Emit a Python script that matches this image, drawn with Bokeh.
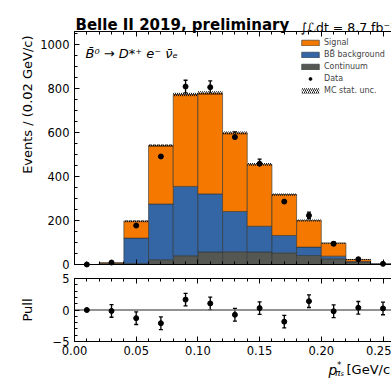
import math
import numpy as np
from bokeh.plotting import figure
from bokeh.layouts import column
from bokeh.models import (ColumnDataSource, Range1d, LinearAxis, SingleIntervalTicker,
                          PrintfTickFormatter, CustomJSTickFormatter, Label, Legend,
                          LegendItem, Whisker, TeeHead, CustomLabelingPolicy)
from bokeh.embed import file_html
from bokeh.resources import INLINE

# ---------------- data ----------------
bin_edges = [0.00, 0.02, 0.04, 0.06, 0.08, 0.10, 0.12, 0.14, 0.16, 0.18, 0.20, 0.22, 0.24, 0.26]
continuum = [0, 2, 5, 22, 40, 57, 58, 57, 53, 41, 26, 12, 1]
bb_background = [0, 2, 115, 253, 315, 264, 183, 117, 79, 38, 12, 2, 0.5]
signal = [0, 4, 77, 266, 418, 458, 357, 281, 186, 121, 59, 9, 0.5]
mc_stat_unc = [0, 1, 5, 7, 8, 8, 7, 6, 5, 4, 3, 2, 1]

data_x = [0.01, 0.03, 0.05, 0.07, 0.09, 0.11, 0.13, 0.15, 0.17, 0.19, 0.21, 0.23, 0.25]
data_y = [0, 9, 177, 491, 809, 806, 579, 458, 286, 223, 94, 24, 3]

pull_y = [0.0, -0.15, -1.3, -2.1, 1.65, 1.05, -0.75, 0.3, -1.85, 1.4, -0.2, 0.35, 0.25]
pull_err = [0, 1, 1, 1, 1, 1, 1, 1, 1, 1, 1, 1, 1]

y_top = 1059            # upper limit of the event axis
pull_lim = 5            # pull axis is -5 .. 5
x_tick_interval = 0.05

# ---------------- page geometry (pixels) ----------------
W = 391
H1, H2 = 271, 109               # heights of the two canvases
X0_PX = 74                      # page x of x = 0
PX_PER_X = 1234.0
Y0_PX1, PX_PER_Y1 = 264, 0.22   # page y of 0 events, px per event
Y0_PX2, PX_PER_Y2 = 309.5, 6.3  # page y of pull 0, px per unit


def fx(px):
    return (px - X0_PX) / PX_PER_X


def fy1(py):
    return (Y0_PX1 - py) / PX_PER_Y1


def fy2(py):
    return (Y0_PX2 - py) / PX_PER_Y2


FONT = "DejaVu Sans"
C_SIG = "#f57900"
C_BB = "#3465a4"
C_CONT = "#555753"
EDGE = "#2e3436"
x_bounds = (bin_edges[0], bin_edges[-1])


def no_labels():
    return CustomLabelingPolicy(code="for (const i of indices) { indices.unset(i) }\nreturn indices")


def style_axis(ax, labels=True, standoff=5):
    ax.axis_line_color = "black"
    ax.axis_line_width = 1
    ax.major_tick_in = 5
    ax.major_tick_out = 0
    ax.minor_tick_in = 3
    ax.minor_tick_out = 0
    ax.major_tick_line_color = "black"
    ax.minor_tick_line_color = "black"
    ax.major_label_text_font = FONT
    ax.major_label_text_color = "black"
    ax.major_label_text_font_size = "11.5px"
    ax.major_label_standoff = standoff
    if not labels:
        ax.major_label_policy = no_labels()


def add_label(fig, x, y, text, size, style="normal", align="left", baseline="alphabetic", angle=0.0):
    fig.add_layout(Label(x=x, y=y, text=text, text_font=FONT, text_font_size=size,
                         text_font_style=style, text_color="black", text_align=align,
                         text_baseline=baseline, angle=angle))


x_range = Range1d(fx(0), fx(W))

# ======================= top panel =======================
p1 = figure(width=W, height=H1, x_range=x_range, y_range=Range1d(fy1(H1), fy1(0)),
            output_backend="svg", toolbar_location=None, title=None, min_border=0)
p1.outline_line_color = None
p1.grid.visible = False

ax = p1.xaxis[0]
ax.ticker = SingleIntervalTicker(interval=x_tick_interval, num_minor_ticks=5)
ax.fixed_location = 0
ax.bounds = x_bounds
style_axis(ax, labels=False)

ay = p1.yaxis[0]
ay.ticker = SingleIntervalTicker(interval=200, num_minor_ticks=4)
ay.fixed_location = 0
ay.bounds = (0, y_top)
style_axis(ay, labels=True)

top1 = LinearAxis(ticker=SingleIntervalTicker(interval=x_tick_interval, num_minor_ticks=5),
                  fixed_location=y_top, bounds=x_bounds)
style_axis(top1, labels=False)
p1.add_layout(top1, "above")

cont = np.array(continuum, dtype=float)
bb = np.array(bb_background, dtype=float)
sig = np.array(signal, dtype=float)
unc = np.array(mc_stat_unc, dtype=float)
total = cont + bb + sig

hsrc = ColumnDataSource(dict(left=bin_edges[:-1], right=bin_edges[1:],
                             cont_top=cont, bb_top=cont + bb, sig_top=total,
                             unc_lo=total - unc, unc_hi=total + unc))

r_cont = p1.quad(left="left", right="right", bottom=0, top="cont_top", source=hsrc,
                 fill_color=C_CONT, line_color=EDGE, line_width=0.6)
r_bb = p1.quad(left="left", right="right", bottom="cont_top", top="bb_top", source=hsrc,
               fill_color=C_BB, line_color=EDGE, line_width=0.6)
r_sig = p1.quad(left="left", right="right", bottom="bb_top", top="sig_top", source=hsrc,
                fill_color=C_SIG, line_color=EDGE, line_width=0.6)
r_unc = p1.quad(left="left", right="right", bottom="unc_lo", top="unc_hi", source=hsrc,
                fill_color=None, line_color=None, hatch_pattern="/", hatch_color="black",
                hatch_scale=4, hatch_weight=0.9)

dy = np.array(data_y, dtype=float)
derr = np.sqrt(dy)
dsrc = ColumnDataSource(dict(x=data_x, y=dy, lo=dy - derr, hi=dy + derr))
p1.add_layout(Whisker(source=dsrc, base="x", upper="hi", lower="lo", dimension="height",
                      line_color="black", line_width=1.3,
                      upper_head=TeeHead(size=4, line_width=1.3, line_color="black"),
                      lower_head=TeeHead(size=4, line_width=1.3, line_color="black")))
r_data = p1.scatter("x", "y", source=dsrc, size=5, color="black")

legend = Legend(items=[
    LegendItem(label="Signal", renderers=[r_sig]),
    LegendItem(label="BB\u0304 background", renderers=[r_bb]),
    LegendItem(label="Continuum", renderers=[r_cont]),
    LegendItem(label="Data", renderers=[r_data]),
    LegendItem(label="MC stat. unc.", renderers=[r_unc]),
], location=(299, H1 - 96), margin=0, padding=3, spacing=0,
    glyph_width=22, glyph_height=7, label_height=12, label_standoff=3,
    label_text_font=FONT, label_text_font_size="8px",
    border_line_color=None, background_fill_alpha=0)
p1.add_layout(legend)

add_label(p1, fx(75), fy1(24), "Belle II 2019, preliminary", "15px", style="bold")
add_label(p1, fx(300), fy1(27), "\u222B\u2112dt = 8.7 fb\u207B\u00B9", "12.5px")
add_label(p1, fx(85), fy1(53), "B\u0304\u2070 \u2192 D*\u207A e\u207B \u03BD\u0304\u2091",
          "13px", style="italic")
add_label(p1, fx(27), fy1(35), "Events / (0.02 GeV/c)", "13px", align="right",
          baseline="middle", angle=math.pi / 2)

# ======================= pull panel =======================
p2 = figure(width=W, height=H2, x_range=x_range,
            y_range=Range1d(fy2(H1 + H2), fy2(H1)),
            output_backend="svg", toolbar_location=None, title=None, min_border=0)
p2.outline_line_color = None
p2.grid.visible = False

bx = p2.xaxis[0]
bx.ticker = SingleIntervalTicker(interval=x_tick_interval, num_minor_ticks=5)
bx.formatter = PrintfTickFormatter(format="%.2f")
bx.fixed_location = -pull_lim
bx.bounds = x_bounds
style_axis(bx, labels=True, standoff=4)

by = p2.yaxis[0]
by.ticker = SingleIntervalTicker(interval=pull_lim, num_minor_ticks=5)
by.formatter = CustomJSTickFormatter(
    code="return (tick < 0) ? '\u2212' + String(-tick) : String(tick);")
by.fixed_location = 0
by.bounds = (-pull_lim, pull_lim)
style_axis(by, labels=True)

top2 = LinearAxis(ticker=SingleIntervalTicker(interval=x_tick_interval, num_minor_ticks=5),
                  fixed_location=pull_lim, bounds=x_bounds)
style_axis(top2, labels=False)
p2.add_layout(top2, "above")

# zero reference line across the histogram range
p2.segment(x0=[bin_edges[0]], y0=[0], x1=[bin_edges[-1]], y1=[0],
           line_color="#6e6e6e", line_width=1.3)

py = np.array(pull_y, dtype=float)
pe = np.array(pull_err, dtype=float)
psrc = ColumnDataSource(dict(x=data_x, y=py, lo=py - pe, hi=py + pe))
p2.add_layout(Whisker(source=psrc, base="x", upper="hi", lower="lo", dimension="height",
                      line_color="black", line_width=1.3,
                      upper_head=TeeHead(size=4, line_width=1.3, line_color="black"),
                      lower_head=TeeHead(size=4, line_width=1.3, line_color="black")))
p2.scatter("x", "y", source=psrc, size=5, color="black")

add_label(p2, fx(27), fy2(309.5), "Pull", "13px", align="center", baseline="middle",
          angle=math.pi / 2)
# x axis title: p*_{pi_s} [GeV/c]
add_label(p2, fx(328), fy2(369), "p", "13.5px", style="italic")
add_label(p2, fx(336.5), fy2(364), "*", "9px")
add_label(p2, fx(334.5), fy2(372), "\u03C0", "9px", style="italic")
add_label(p2, fx(340), fy2(373.5), "s", "6.5px", style="italic")
add_label(p2, fx(346), fy2(369), "[GeV/c]", "13px")

layout = column(p1, p2, spacing=0)
open("out.html", "w").write(file_html(layout, INLINE))
